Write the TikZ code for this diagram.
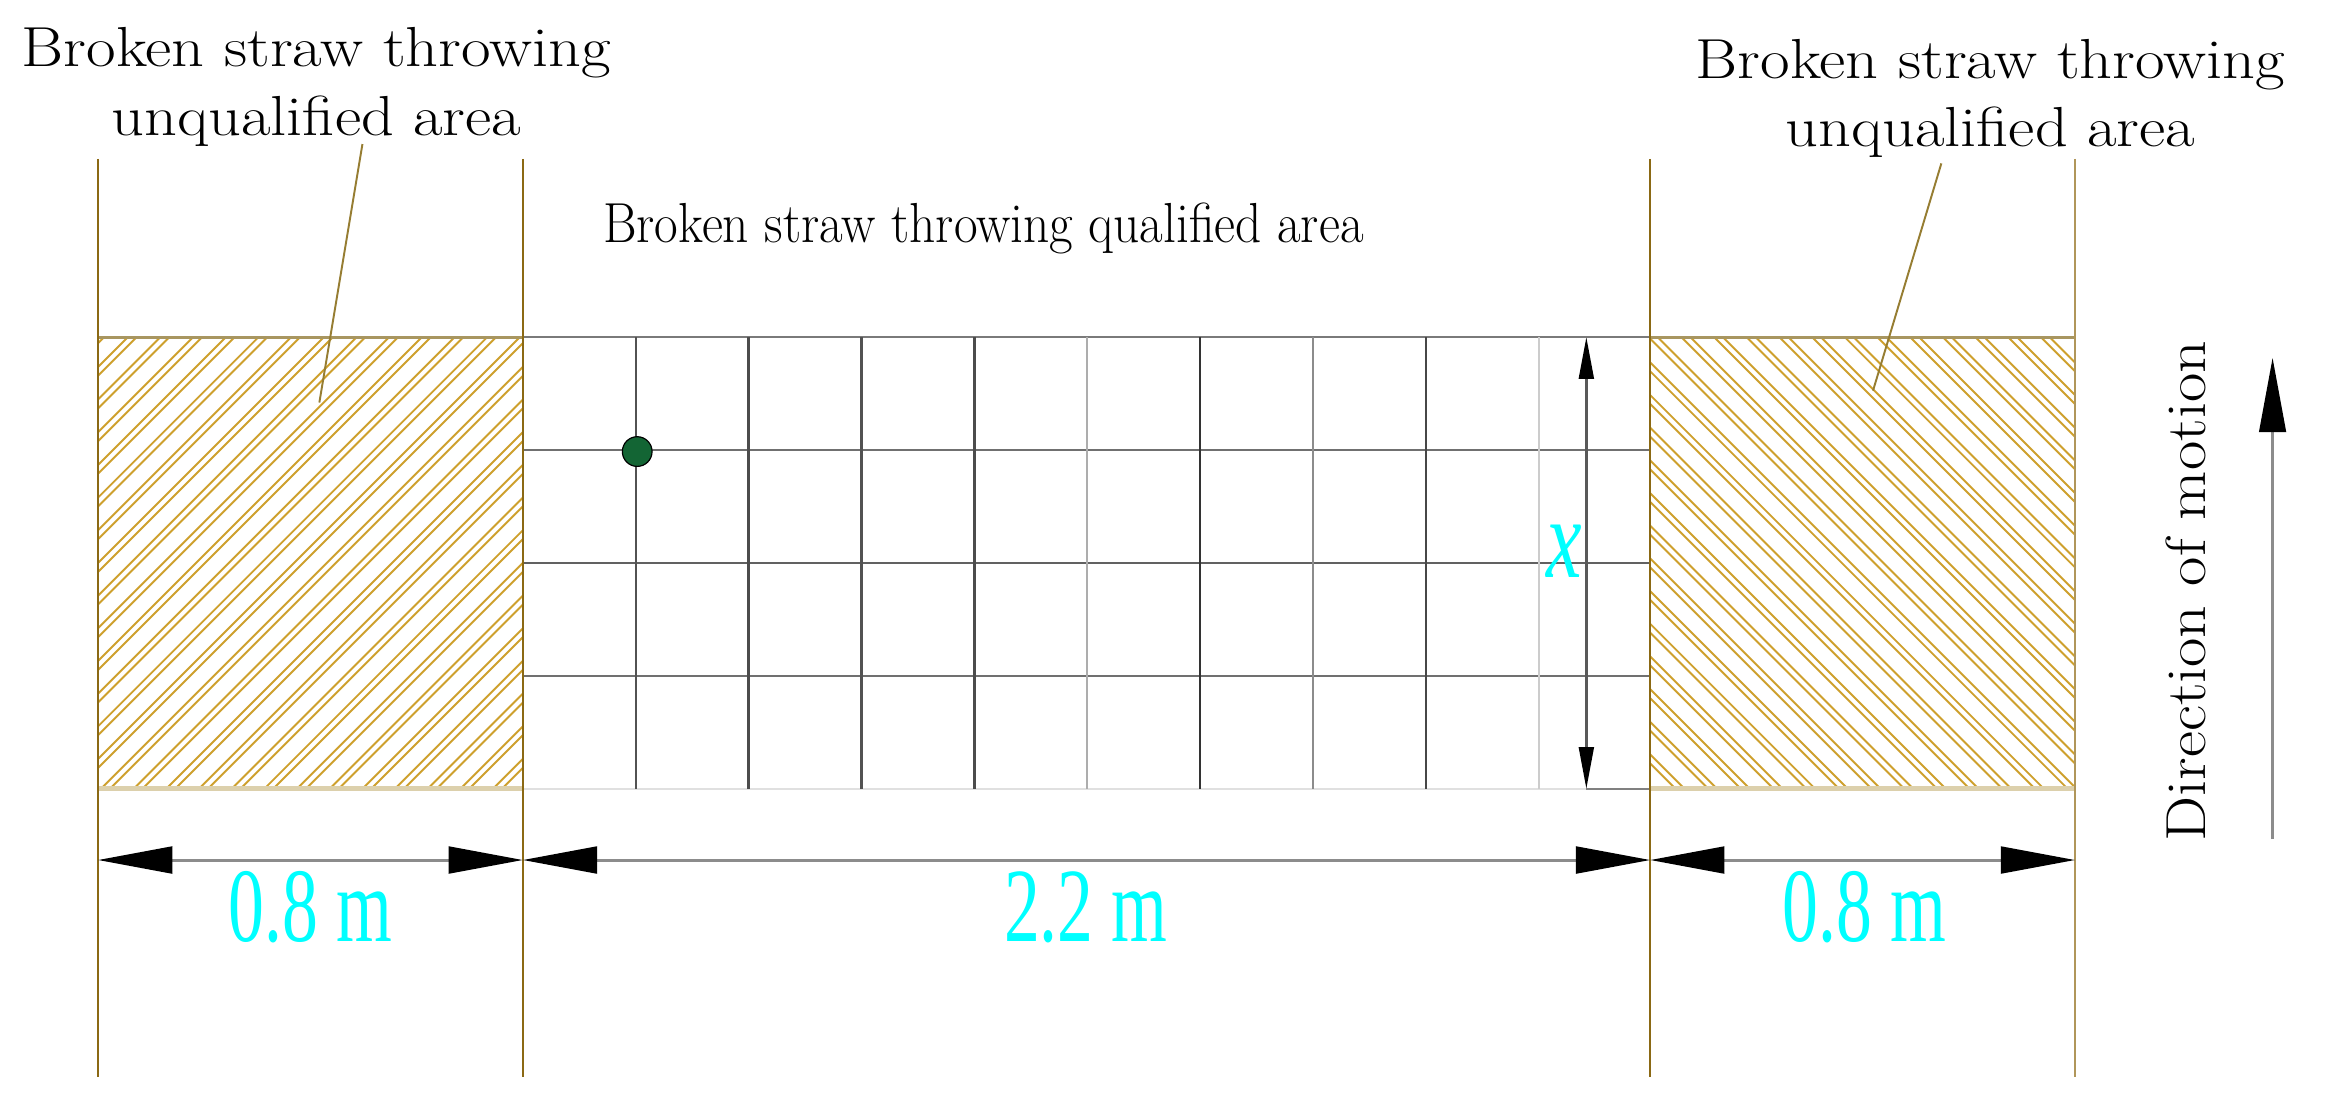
\documentclass[tikz,border=0pt]{standalone}
\usepackage{fontspec}
\newfontfamily\dimfont{Liberation Serif}
\usetikzlibrary{arrows.meta}
\definecolor{brownline}{RGB}{139,105,20}
\definecolor{brownlight}{RGB}{176,150,90}
\definecolor{hatchc}{RGB}{206,160,45}
\definecolor{leaderc}{RGB}{150,125,50}
\definecolor{hatchtop}{RGB}{168,150,96}
\definecolor{hatchbot}{RGB}{220,208,172}
\definecolor{dimcyan}{RGB}{0,255,255}
\definecolor{dotgreen}{RGB}{19,101,52}
\begin{document}
\begin{tikzpicture}[x=1pt,y=-1pt,
  lbl/.style={font=\fontsize{38}{46}\selectfont, align=center, inner sep=0pt, xscale=1.14},
  midlbl/.style={font=\fontsize{38}{44}\selectfont, inner sep=0pt, xscale=0.91},
  dimlbl/.style={font=\dimfont\fontsize{71}{71}\selectfont, text=dimcyan, xscale=0.68, inner sep=0pt},
  bline/.style={draw=brownline, line width=1.6pt},
  hline/.style={draw=hatchc, line width=1.3pt},
  gline/.style={line width=1.6pt},
  leader/.style={draw=leaderc, line width=1.3pt},
  dimline/.style={draw=black!45, line width=2pt},
  bigtip/.tip={Triangle[length=50pt,width=18pt,color=black]},
  smalltip/.tip={Triangle[length=28pt,width=10pt,color=black]}]
\fill[white] (0,0) rectangle (1568,753);
\useasboundingbox (0,0) rectangle (1568,753);

% hatching, left (/)
\begin{scope}
  \clip (66,227) rectangle (352,531);
  \foreach \c in {-262,-240,...,360}{
    \draw[hline] (\c,531) -- ++(320,-320);
    \draw[hline] (\c+6,531) -- ++(320,-320);
  }
\end{scope}
% hatching, right (\)
\begin{scope}
  \clip (1111,227) rectangle (1397,531);
  \foreach \c in {780,802,...,1400}{
    \draw[hline] (\c,227) -- ++(320,320);
    \draw[hline] (\c+6,227) -- ++(320,320);
  }
\end{scope}
\draw[draw=hatchtop, line width=2pt] (66,227) -- (352,227) (1111,227) -- (1397,227);
\draw[draw=hatchbot, line width=3pt] (66,531) -- (352,531) (1111,531) -- (1397,531);

% grid
\foreach \y/\c in {227/black!52, 303/black!56, 379/black!62, 455/black!56}{
  \draw[gline, draw=\c] (352,\y) -- (1111,\y);
}
\draw[gline, draw=black!12] (352,531) -- (1068,531);
\draw[gline, draw=black!50] (1068,531) -- (1111,531);
\foreach \k/\c in {1/black!68, 2/black!70, 3/black!68, 4/black!70, 5/black!32, 6/black!80, 7/black!45, 8/black!72, 9/black!20}{
  \draw[gline, draw=\c] (352+76*\k,227) -- (352+76*\k,531);
}

% brown vertical boundary lines
\coordinate (v1t) at (66,107);   \coordinate (v1b) at (66,725);
\coordinate (v2t) at (352,107);  \coordinate (v2b) at (352,725);
\coordinate (v3t) at (1111,107); \coordinate (v3b) at (1111,725);
\coordinate (v4t) at (1397,107); \coordinate (v4b) at (1397,725);
\draw[bline] (v1t) -- (v1b);
\draw[bline] (v2t) -- (v2b);
\draw[bline] (v3t) -- (v3b);
\draw[bline, draw=brownlight] (v4t) -- (v4b);

% sample point
\node[circle, fill=dotgreen, draw=black, line width=0.8pt, minimum size=20pt, inner sep=0pt] (dot) at (429,304) {};

% x dimension
\coordinate (xt) at (1068,227);
\coordinate (xb) at (1068,531);
\draw[draw=black!65, line width=1.6pt, smalltip-smalltip] (xt) -- (xb);
\node[font=\dimfont\itshape\fontsize{77}{77}\selectfont, text=dimcyan, xscale=0.7, inner sep=0pt, anchor=base] (xlab) at (1053,389) {x};

% horizontal dimensions
\coordinate (d0) at (66,579);
\coordinate (d1) at (352,579);
\coordinate (d2) at (1111,579);
\coordinate (d3) at (1397,579);
\draw[dimline, bigtip-bigtip] (d0) -- (d1);
\draw[dimline, bigtip-bigtip] (d1) -- (d2);
\draw[dimline, bigtip-bigtip] (d2) -- (d3);
\node[dimlbl, anchor=base] (l1) at (209,634) {0.8 m};
\node[dimlbl, anchor=base] (l2) at (731,634) {2.2 m};
\node[dimlbl, anchor=base] (l3) at (1255,634) {0.8 m};

% labels
\node[lbl, anchor=north] (ul) at (213,18.5) {Broken straw throwing\\unqualified area};
\node[lbl, anchor=north] (ur) at (1340,26.3) {Broken straw throwing\\unqualified area};
\node[midlbl, anchor=base west] (qa) at (405.8,163.5) {Broken straw throwing qualified area};
\coordinate (ule) at (215,271);
\coordinate (ure) at (1261,263);
\draw[leader] (244,97) -- (ule);
\draw[leader] (1307,110) -- (ure);

% direction of motion
\node[font=\fontsize{38}{46}\selectfont, inner sep=0pt, rotate=90, anchor=base] (dir) at (1485,398) {\scalebox{1.13}[1]{Direction of motion}};
\coordinate (ab) at (1530,565);
\coordinate (at) at (1530,241);
\draw[draw=black!45, line width=1.6pt, -bigtip] (ab) -- (at);
\end{tikzpicture}
\end{document}
